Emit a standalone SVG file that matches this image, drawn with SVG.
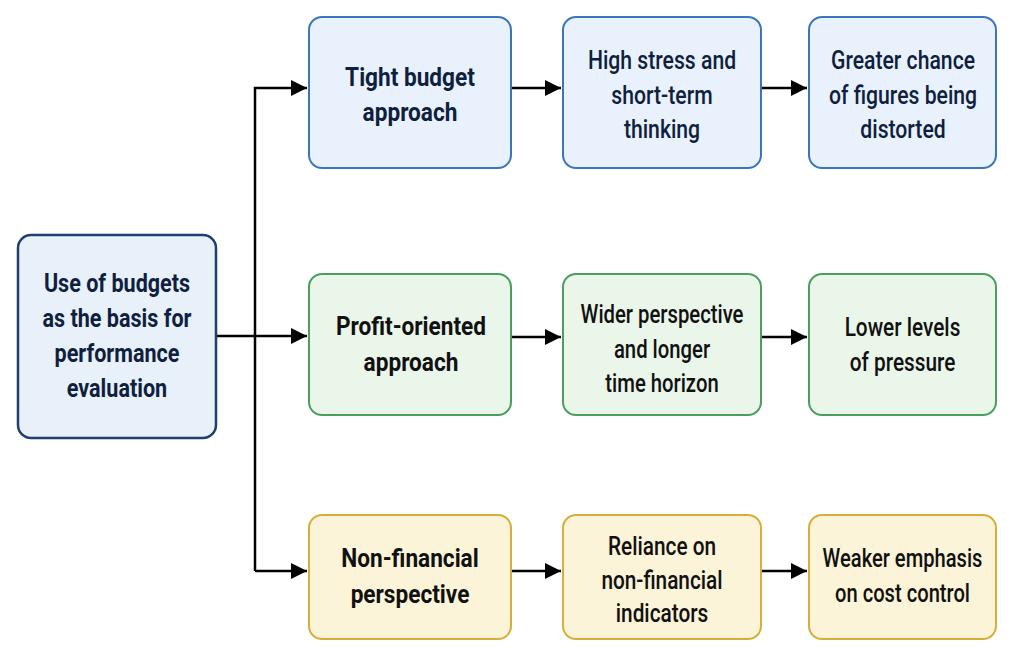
<svg xmlns="http://www.w3.org/2000/svg" width="1014" height="657" viewBox="0 0 1014 657">
<defs>
<marker id="ah" markerWidth="16" markerHeight="16" refX="16" refY="8" orient="auto" markerUnits="userSpaceOnUse">
<path d="M0,0 L16,8 L0,16 Z" fill="#000"/>
</marker>
<style>
text{font-family:Roboto,"Liberation Sans",sans-serif;font-size:26px;text-anchor:middle;dominant-baseline:central}
.b{fill:#e9f2fc;stroke:#3b76bd;stroke-width:2}
.lb{fill:#e8f0fa;stroke:#1f3f70;stroke-width:2.5}
.g{fill:#ebf6eb;stroke:#4a9f5e;stroke-width:2}
.y{fill:#fcf4d8;stroke:#d6ae3a;stroke-width:2}
.t1{font-weight:700}
.t2{font-weight:500}
.nb{fill:#0f1f3d}
.nk{fill:#111}
.c{stroke:#000;stroke-width:2.5;fill:none}
</style>
</defs>
<rect width="1014" height="657" fill="#fff"/>
<g id="connectors">
<path class="c" d="M216,336 H307" marker-end="url(#ah)"/>
<path class="c" d="M255,571 V88 H307" marker-end="url(#ah)"/>
<path class="c" d="M255,571 H307" marker-end="url(#ah)"/>
<path class="c" d="M511,88 H561" marker-end="url(#ah)"/>
<path class="c" d="M761,88 H807" marker-end="url(#ah)"/>
<path class="c" d="M511,337 H561" marker-end="url(#ah)"/>
<path class="c" d="M761,337 H807" marker-end="url(#ah)"/>
<path class="c" d="M511,571 H561" marker-end="url(#ah)"/>
<path class="c" d="M761,571 H807" marker-end="url(#ah)"/>
</g>
<g id="n-use">
<rect class="lb" x="18" y="235" width="198" height="203" rx="13"/>
<g transform="translate(117,0) scale(0.83,1)" class="t1 nb">
<text x="0" y="283">Use of budgets</text>
<text x="0" y="318">as the basis for</text>
<text x="0" y="353">performance</text>
<text x="0" y="388">evaluation</text>
</g>
</g>
<g id="n-tight">
<rect class="b" x="309" y="17" width="202" height="151" rx="13"/>
<g transform="translate(410,0) scale(0.87,1)" class="t1 nb">
<text x="0" y="77">Tight budget</text>
<text x="0" y="112">approach</text>
</g>
</g>
<g id="n-stress">
<rect class="b" x="563" y="17" width="198" height="151" rx="13"/>
<g transform="translate(662,0) scale(0.815,1)" class="t2 nb">
<text x="0" y="60">High stress and</text>
<text x="0" y="95">short-term</text>
<text x="0" y="129">thinking</text>
</g>
</g>
<g id="n-greater">
<rect class="b" x="809" y="17" width="187" height="151" rx="13"/>
<g transform="translate(903,0) scale(0.815,1)" class="t2 nb">
<text x="0" y="60">Greater chance</text>
<text x="0" y="95">of figures being</text>
<text x="0" y="129">distorted</text>
</g>
</g>
<g id="n-profit">
<rect class="g" x="309" y="274" width="202" height="141" rx="13"/>
<g transform="translate(411,0) scale(0.87,1)" class="t1 nk">
<text x="0" y="326">Profit-oriented</text>
<text x="0" y="362">approach</text>
</g>
</g>
<g id="n-wider">
<rect class="g" x="563" y="274" width="198" height="141" rx="13"/>
<g transform="translate(662,0) scale(0.78,1)" class="t2 nk">
<text x="0" y="314">Wider perspective</text>
<text x="0" y="349">and longer</text>
<text x="0" y="383">time horizon</text>
</g>
</g>
<g id="n-lower">
<rect class="g" x="809" y="274" width="187" height="141" rx="13"/>
<g transform="translate(902.5,0) scale(0.8,1)" class="t2 nk">
<text x="0" y="327">Lower levels</text>
<text x="0" y="362">of pressure</text>
</g>
</g>
<g id="n-nonfin">
<rect class="y" x="309" y="515" width="202" height="124" rx="13"/>
<g transform="translate(410,0) scale(0.87,1)" class="t1 nk">
<text x="0" y="558">Non-financial</text>
<text x="0" y="594">perspective</text>
</g>
</g>
<g id="n-reliance">
<rect class="y" x="563" y="515" width="198" height="124" rx="13"/>
<g transform="translate(662,0) scale(0.8,1)" class="t2 nk">
<text x="0" y="546">Reliance on</text>
<text x="0" y="580">non-financial</text>
<text x="0" y="613">indicators</text>
</g>
</g>
<g id="n-weaker">
<rect class="y" x="809" y="515" width="187" height="124" rx="13"/>
<g transform="translate(902.5,0) scale(0.775,1)" class="t2 nk">
<text x="0" y="558">Weaker emphasis</text>
<text x="0" y="593">on cost control</text>
</g>
</g>
</svg>
